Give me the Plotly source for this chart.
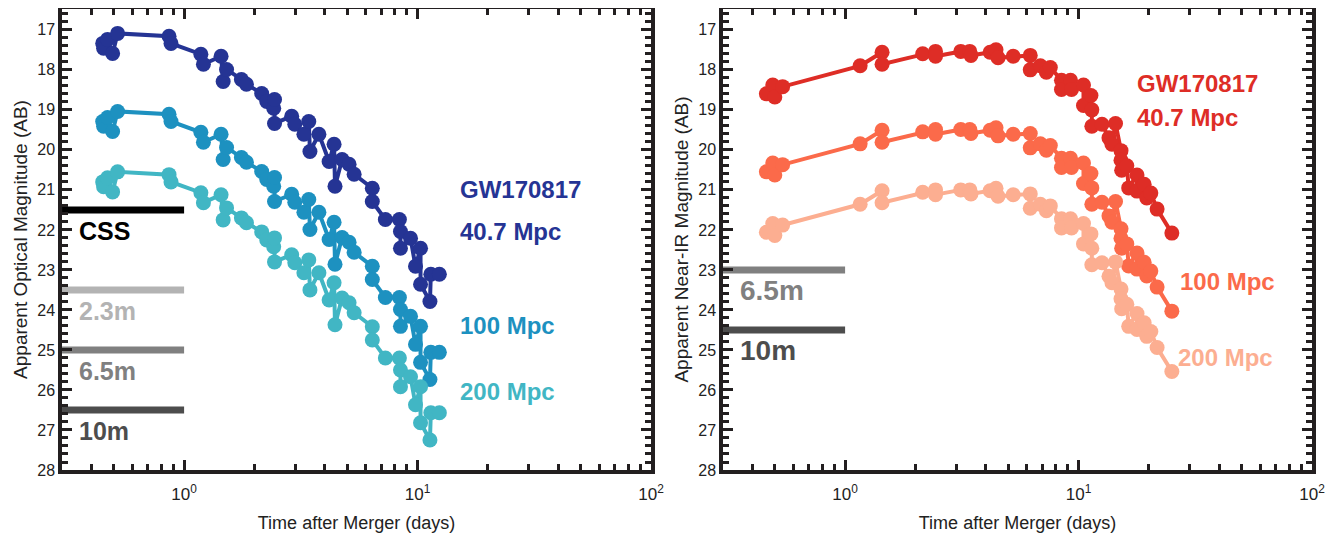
import plotly.graph_objects as go

# ---------------- data ----------------
# Optical light curves (days after merger, AB mag)
t_opt = [0.448, 0.452, 0.470, 0.494, 0.519, 0.862, 0.879, 1.18, 1.21, 1.44, 1.47, 1.52,
         1.76, 1.85, 2.15, 2.26, 2.42, 2.44, 2.44, 2.89, 2.98, 3.26, 3.42, 3.46, 3.78,
         4.18, 4.39, 4.43, 4.75, 5.09, 5.35, 6.40, 6.40, 7.28, 8.36, 8.45, 8.45, 9.33,
         9.80, 10.3, 10.3, 11.3, 11.4, 12.4]
opt_gw = [17.34, 17.46, 17.24, 17.59, 17.09, 17.16, 17.34, 17.61, 17.86, 17.66, 18.29, 17.99,
          18.24, 18.36, 18.59, 18.79, 18.96, 18.74, 19.34, 19.16, 19.36, 19.61, 19.29, 20.04, 19.61,
          20.29, 19.86, 20.91, 20.24, 20.36, 20.61, 20.96, 21.29, 21.74, 21.74, 22.04, 22.46, 22.21,
          22.91, 22.46, 23.36, 23.79, 23.11, 23.11]
opt_100 = [19.29, 19.41, 19.19, 19.54, 19.04, 19.11, 19.29, 19.56, 19.81, 19.61, 20.24, 19.94,
           20.19, 20.31, 20.54, 20.74, 20.91, 20.69, 21.29, 21.11, 21.31, 21.56, 21.24, 21.99, 21.56,
           22.24, 21.81, 22.86, 22.19, 22.31, 22.56, 22.91, 23.24, 23.69, 23.69, 23.99, 24.41, 24.16,
           24.86, 24.41, 25.31, 25.74, 25.06, 25.06]
opt_200 = [20.80, 20.92, 20.70, 21.05, 20.55, 20.62, 20.80, 21.07, 21.32, 21.12, 21.75, 21.45,
           21.70, 21.82, 22.05, 22.25, 22.42, 22.20, 22.80, 22.62, 22.82, 23.07, 22.75, 23.50, 23.07,
           23.75, 23.32, 24.37, 23.70, 23.82, 24.07, 24.42, 24.75, 25.20, 25.20, 25.50, 25.92, 25.67,
           26.37, 25.92, 26.82, 27.25, 26.57, 26.57]

# Near-IR light curves
t_nir = [0.46, 0.49, 0.50, 0.54, 1.16, 1.44, 1.44, 2.15, 2.44, 2.44, 3.13, 3.42, 3.46, 4.18,
         4.43, 4.52, 5.25, 6.21, 6.21, 6.86, 7.28, 7.57, 8.45, 8.45, 9.24, 9.33, 10.5, 10.5,
         11.3, 11.4, 11.4, 12.6, 13.5, 13.9, 14.4, 15.2, 15.2, 15.3, 16.1, 16.4, 17.8, 17.8,
         19.1, 19.6, 20.4, 21.7, 25.1]
nir_gw = [18.60, 18.38, 18.68, 18.42, 17.90, 17.56, 17.86, 17.60, 17.54, 17.66, 17.54, 17.54,
          17.64, 17.56, 17.50, 17.70, 17.66, 17.64, 18.00, 17.90, 18.06, 17.94, 18.26, 18.49,
          18.26, 18.49, 18.38, 18.89, 18.64, 19.00, 19.41, 19.36, 19.70, 19.86, 19.34, 20.02,
          20.26, 20.51, 20.40, 20.95, 20.63, 21.03, 20.86, 21.20, 21.08, 21.48, 22.08]
nir_100 = [20.55, 20.33, 20.63, 20.37, 19.85, 19.51, 19.81, 19.55, 19.49, 19.61, 19.49, 19.49,
           19.59, 19.51, 19.45, 19.65, 19.61, 19.59, 19.95, 19.85, 20.01, 19.89, 20.21, 20.44,
           20.21, 20.44, 20.33, 20.84, 20.59, 20.95, 21.36, 21.31, 21.65, 21.81, 21.29, 21.97,
           22.21, 22.46, 22.35, 22.90, 22.58, 22.98, 22.81, 23.15, 23.03, 23.43, 24.03]
nir_200 = [22.06, 21.84, 22.14, 21.88, 21.36, 21.02, 21.32, 21.06, 21.00, 21.12, 21.00, 21.00,
           21.10, 21.02, 20.96, 21.16, 21.12, 21.10, 21.46, 21.36, 21.52, 21.40, 21.72, 21.95,
           21.72, 21.95, 21.84, 22.35, 22.10, 22.46, 22.87, 22.82, 23.16, 23.32, 22.80, 23.48,
           23.72, 23.97, 23.86, 24.41, 24.09, 24.49, 24.32, 24.66, 24.54, 24.94, 25.54]

# Telescope limiting magnitudes
lim_t = [0.3, 1.0]
opt_lim_names = ["CSS", "2.3m", "6.5m", "10m"]
opt_lim_mags = [21.5, 23.5, 25.0, 26.5]
nir_lim_names = ["6.5m", "10m"]
nir_lim_mags = [23.0, 24.5]

series_labels = ["GW170817", "40.7 Mpc", "100 Mpc", "200 Mpc"]
x_ticks = [1, 10, 100]
x_ticktext = ["10<sup>0</sup>", "10<sup>1</sup>", "10<sup>2</sup>"]
y_ticks = list(range(17, 29))

# ---------------- styling ----------------
FONT = "Liberation Sans, Arial, Helvetica, sans-serif"
AX = "#231f20"
opt_colors = ["#253494", "#1d91c0", "#41b6c4"]
nir_colors = ["#de2d26", "#fb6a4a", "#fcae91"]
opt_lim_colors = ["#000000", "#b3b3b3", "#808080", "#4d4d4d"]
nir_lim_colors = ["#808080", "#4d4d4d"]

fig = go.Figure()

def add_curves(t, curves, colors, xa, ya):
    for m, c in zip(curves, colors):
        fig.add_trace(go.Scatter(x=t, y=m, mode="lines+markers", xaxis=xa, yaxis=ya,
                                 line=dict(color=c, width=4),
                                 marker=dict(color=c, size=15, line=dict(width=0)),
                                 showlegend=False, hoverinfo="skip"))

def add_limits(mags, colors, xa, ya):
    for m, c in zip(mags, colors):
        fig.add_trace(go.Scatter(x=lim_t, y=[m, m], mode="lines", xaxis=xa, yaxis=ya,
                                 line=dict(color=c, width=7), showlegend=False,
                                 hoverinfo="skip"))

add_limits(opt_lim_mags, opt_lim_colors, "x", "y")
add_limits(nir_lim_mags, nir_lim_colors, "x2", "y2")
add_curves(t_opt, [opt_gw, opt_100, opt_200], opt_colors, "x", "y")
add_curves(t_nir, [nir_gw, nir_100, nir_200], nir_colors, "x2", "y2")

minor_x = [v * d for d in (0.1, 1, 10) for v in range(2, 10)]

def xaxis(domain, anchor):
    return dict(type="log", domain=domain, range=[-0.523, 2.0], anchor=anchor,
                tickmode="array", tickvals=x_ticks, ticktext=x_ticktext,
                ticks="inside", ticklen=10, tickwidth=2.5, tickcolor=AX,
                showline=True, linewidth=3.5, linecolor=AX, mirror="ticks",
                showgrid=False, zeroline=False, automargin=False,
                ticklabelstandoff=6,
                minor=dict(tickmode="array", tickvals=minor_x, ticks="inside",
                           ticklen=6, tickwidth=2.5, tickcolor=AX, showgrid=False),
                tickfont=dict(family=FONT, size=17, color="#222"),
                title=dict(text="Time after Merger (days)",
                           font=dict(family=FONT, size=18, color="#222"), standoff=14))

def yaxis(title, anchor):
    return dict(range=[28.0, 16.48], anchor=anchor,
                tickmode="array", tickvals=y_ticks,
                ticks="inside", ticklen=10, tickwidth=2.5, tickcolor=AX,
                showline=True, linewidth=3.5, linecolor=AX, mirror="ticks",
                showgrid=False, zeroline=False, automargin=False,
                minor=dict(dtick=0.2, ticks="inside", ticklen=6, tickwidth=2.5,
                           tickcolor=AX, showgrid=False),
                tickfont=dict(family=FONT, size=16, color="#222"),
                title=dict(text=title, font=dict(family=FONT, size=19, color="#222"),
                           standoff=6))

# page body adds an 8px offset, so the figure is 8px smaller than the window
fig.update_layout(
    width=1334, height=525,
    margin=dict(l=54, r=30, t=1, b=63),
    paper_bgcolor="white", plot_bgcolor="white",
    xaxis=xaxis([0.0, 0.4712], "y"),
    yaxis=yaxis("Apparent Optical Magnitude (AB)", "x"),
    xaxis2=xaxis([0.5288, 1.0], "y2"),
    yaxis2=yaxis("Apparent Near-IR Magnitude (AB)", "x2"),
)

def label(text, xd, y, color, size, xa, ya):
    fig.add_annotation(text="<b>%s</b>" % text, xref=xa + " domain", yref=ya,
                       x=xd, y=y, xanchor="left", yanchor="middle", showarrow=False,
                       font=dict(family=FONT, size=size, color=color))

# curve labels (left panel)
label(series_labels[0], 0.672, 21.0, opt_colors[0], 24, "x", "y")
label(series_labels[1], 0.672, 22.05, opt_colors[0], 24, "x", "y")
label(series_labels[2], 0.672, 24.4, opt_colors[1], 24, "x", "y")
label(series_labels[3], 0.672, 26.05, opt_colors[2], 24, "x", "y")
# curve labels (right panel)
label(series_labels[0], 0.700, 18.35, nir_colors[0], 24, "x2", "y2")
label(series_labels[1], 0.700, 19.2, nir_colors[0], 24, "x2", "y2")
label(series_labels[2], 0.772, 23.3, nir_colors[1], 24, "x2", "y2")
label(series_labels[3], 0.769, 25.2, nir_colors[2], 24, "x2", "y2")

# limit labels (just below each bar)
for n, m, c in zip(opt_lim_names, opt_lim_mags, opt_lim_colors):
    label(n, 0.026, m + 0.52, c, 25, "x", "y")
for n, m, c in zip(nir_lim_names, nir_lim_mags, nir_lim_colors):
    label(n, 0.026, m + 0.52, c, 28, "x2", "y2")

fig.write_html("out.html")
